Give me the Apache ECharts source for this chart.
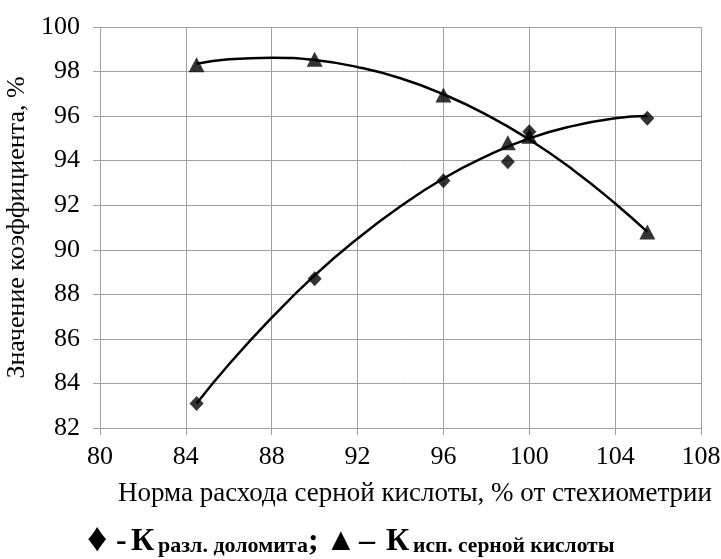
<!DOCTYPE html>
<html>
<head>
<meta charset="utf-8">
<script src="https://cdn.jsdelivr.net/npm/echarts@6/dist/echarts.min.js"></script>
<style>
  html, body { margin: 0; padding: 0; background: #fff; }
  #chart { width: 721px; height: 559px; }
</style>
</head>
<body>
<div id="chart"></div>
<script>
// measured points
var xDiamond = [84.5, 90, 96, 99, 100, 105.5]
var yDiamond = [83.1, 88.7, 93.1, 93.95, 95.3, 95.9]
var xTriangle = [84.5, 90, 96, 99, 100, 105.5]
var yTriangle = [98.3, 98.55, 96.95, 94.8, 95.1, 90.8]

// trend curves
var xCurve = [84.5, 86, 88, 90, 92, 94, 96, 98, 100, 102, 104, 105.5]
var yCurveDiamond = [83.1, 84.85, 86.95, 88.85, 90.5, 91.95, 93.2, 94.2, 95.0, 95.55, 95.9, 96.0]
var yCurveTriangle = [98.35, 98.55, 98.62, 98.52, 98.2, 97.7, 96.98, 96.07, 94.95, 93.62, 92.08, 90.8]

function pairs(xs, ys) {
  return xs.map(function(x, i) { return [x, ys[i]] })
}

var gridColor = '#a0a0a0'
var font = '"Liberation Serif", "Times New Roman", serif'

// legend pieces under the chart
function legendText(text, x, y, size) {
  return {
    type: 'text',
    x: x,
    y: y,
    style: {
      text: text,
      fontFamily: font,
      fontSize: size,
      fontWeight: 'bold',
      fill: '#000',
      textAlign: 'left',
      textVerticalAlign: 'middle'
    }
  }
}

var chart = echarts.init(document.getElementById('chart'))
chart.setOption({
  animation: false,
  textStyle: { fontFamily: font, color: '#000' },
  grid: { left: 100, right: 20, top: 27, bottom: 131, outerBoundsMode: 'none' },
  xAxis: {
    type: 'value',
    min: 80,
    max: 108,
    interval: 4,
    name: 'Норма расхода серной кислоты, % от стехиометрии',
    nameLocation: 'middle',
    nameGap: 52,
    nameTextStyle: { fontFamily: font, fontSize: 27, color: '#000', padding: [0, 0, 0, 29] },
    axisLine: { show: true, lineStyle: { color: gridColor, width: 1 } },
    axisTick: { show: true, length: 7, lineStyle: { color: gridColor } },
    axisLabel: { fontFamily: font, fontSize: 26, color: '#000', margin: 16 },
    splitLine: { show: true, lineStyle: { color: gridColor, width: 1 } }
  },
  yAxis: {
    type: 'value',
    min: 82,
    max: 100,
    interval: 2,
    name: 'Значение коэффициента, %',
    nameLocation: 'middle',
    nameGap: 67,
    nameTextStyle: { fontFamily: font, fontSize: 26, color: '#000' },
    axisLine: { show: true, lineStyle: { color: gridColor, width: 1 } },
    axisTick: { show: true, length: 7, lineStyle: { color: gridColor } },
    axisLabel: { fontFamily: font, fontSize: 26, color: '#000', margin: 20 },
    splitLine: { show: true, lineStyle: { color: gridColor, width: 1 } }
  },
  series: [
    {
      type: 'line',
      smooth: true,
      showSymbol: false,
      data: pairs(xCurve, yCurveDiamond),
      lineStyle: { color: '#000', width: 2.5 },
      z: 2
    },
    {
      type: 'line',
      smooth: true,
      showSymbol: false,
      data: pairs(xCurve, yCurveTriangle),
      lineStyle: { color: '#000', width: 2.5 },
      z: 2
    },
    {
      type: 'scatter',
      symbol: 'triangle',
      symbolSize: [16, 15],
      data: pairs(xTriangle, yTriangle),
      itemStyle: { color: '#000' },
      z: 3
    },
    {
      type: 'scatter',
      symbol: 'diamond',
      symbolSize: [14, 15],
      data: pairs(xDiamond, yDiamond),
      itemStyle: { color: '#000' },
      z: 4
    }
  ],
  graphic: [
    legendText('♦', 87, 541, 40),
    legendText('-', 116, 542, 32),
    legendText('К', 131, 542, 32),
    legendText('разл. доломита', 158, 546, 22),
    legendText(';', 308, 542, 32),
    legendText('▲', 325, 542, 32),
    legendText('–', 359, 542, 32),
    legendText('К', 386, 542, 32),
    legendText('исп. серной кислоты', 413, 546, 21.5)
  ]
})
</script>
</body>
</html>
